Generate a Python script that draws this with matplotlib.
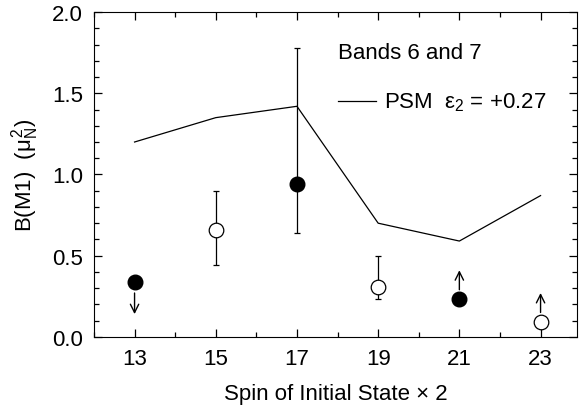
import matplotlib
matplotlib.use('Agg')
import matplotlib.pyplot as plt
from matplotlib.ticker import MultipleLocator, FormatStrFormatter

plt.rcParams['font.family'] = ['Liberation Sans', 'DejaVu Sans']
plt.rcParams['mathtext.fontset'] = 'custom'
plt.rcParams['mathtext.rm'] = 'Liberation Sans'
plt.rcParams['mathtext.it'] = 'Liberation Sans'
plt.rcParams['font.size'] = 16
plt.rcParams['xtick.direction'] = 'in'
plt.rcParams['ytick.direction'] = 'in'

# PSM calculation
spin_psm = [13, 15, 17, 19, 21, 23]
b_psm = [1.20, 1.35, 1.42, 0.70, 0.59, 0.87]

# experimental points
spin_filled = [13, 17, 21]
b_filled = [0.34, 0.94, 0.235]
spin_open = [15, 19, 23]
b_open = [0.655, 0.31, 0.09]

# error bars (low, high)
err_spin = [15, 17, 19]
err_val = [0.655, 0.94, 0.31]
err_lo = [0.44, 0.64, 0.23]
err_hi = [0.90, 1.78, 0.50]

# limit arrows (x, start, end)
arrow_x = [13, 21, 23]
arrow_from = [0.27, 0.29, 0.15]
arrow_to = [0.14, 0.41, 0.27]

fig = plt.figure(figsize=(5.8, 4.1), dpi=100)
ax = fig.add_axes([0.162, 0.176, 0.833, 0.792])

ax.plot(spin_psm, b_psm, color='black', lw=0.9)

yerr = [[v - l for v, l in zip(err_val, err_lo)],
        [h - v for v, h in zip(err_val, err_hi)]]
ax.errorbar(err_spin, err_val, yerr=yerr, fmt='none', ecolor='black',
            elinewidth=0.9, capsize=2, capthick=0.9, zorder=2)

ax.plot(spin_filled, b_filled, 'o', color='black', markersize=10.5, zorder=3)
ax.plot(spin_open, b_open, 'o', mfc='white', mec='black', mew=0.9,
        markersize=10.5, zorder=3)

for x, y0, y1 in zip(arrow_x, arrow_from, arrow_to):
    ax.annotate('', xy=(x, y1), xytext=(x, y0),
                arrowprops=dict(arrowstyle='->', lw=1.0, color='black',
                                shrinkA=0, shrinkB=0, mutation_scale=15))

ax.text(18.0, 1.75, 'Bands 6 and 7', fontsize=16, va='center')
ax.plot([18.0, 18.95], [1.45, 1.45], color='black', lw=0.9)
ax.text(19.15, 1.45, r'PSM  $\varepsilon_2$ = +0.27', fontsize=16, va='center')

ax.set_xlim(12, 23.9)
ax.set_ylim(0, 2.0)
ax.set_xticks(spin_psm)
ax.xaxis.set_minor_locator(MultipleLocator(1))
ax.yaxis.set_major_locator(MultipleLocator(0.5))
ax.yaxis.set_minor_locator(MultipleLocator(0.1))
ax.yaxis.set_major_formatter(FormatStrFormatter('%.1f'))
ax.tick_params(which='both', top=True, right=True)
ax.tick_params(which='major', length=6, width=0.9, pad=8)
ax.tick_params(which='minor', length=3.5, width=0.9)

ax.set_xlabel('Spin of Initial State \u00d7 2', labelpad=10)
ax.set_ylabel(r'B(M1)  ($\mu_N^2$)', labelpad=8)

fig.savefig('out.png', dpi=100)
